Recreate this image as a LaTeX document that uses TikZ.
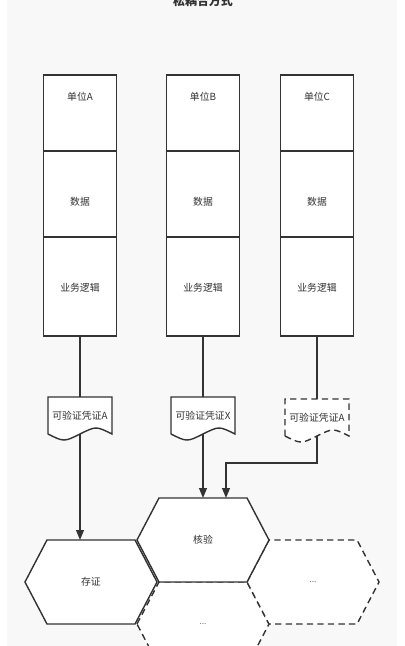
\documentclass[tikz,border=0pt]{standalone}
\usepackage{fontspec}
\setmainfont{Noto Sans CJK SC}
\usetikzlibrary{arrows.meta,positioning,calc}
\definecolor{ink}{HTML}{333333}
\definecolor{panel}{HTML}{F8F8F8}
\definecolor{dots}{HTML}{777777}

% outline of a flat hexagon on a (hidden) node
\newcommand{\hexshape}[3][]{%
  \draw[outline,#1] (#2.west) -- ($(#2.north west)+(22,0)$) -- ($(#2.north east)+(-22,0)$) -- (#2.east)
    -- ($(#2.south east)+(-22,0)$) -- ($(#2.south west)+(22,0)$) -- cycle;
  \node[txt] (#2t) at (#2) {#3};}
% document shape with a wavy foot
\newcommand{\docshape}[3][]{%
  \draw[outline,#1] (#2.south west) -- (#2.north west) -- (#2.north east) -- (#2.south east)
    .. controls ($(#2.south east)!0.5!(#2.south)+(0,-8)$) .. (#2.south)
    .. controls ($(#2.south west)!0.5!(#2.south)+(0,8)$) .. (#2.south west);
  \node[txt] (#2t) at (#2) {#3};}
\newcommand{\moredots}{\color{dots}\fontsize{6}{7}\selectfont ...}

\begin{document}
\begin{tikzpicture}[x=0.025cm,y=-0.025cm,font=\fontsize{7}{8}\selectfont,>={Triangle[length=7pt,width=5.5pt]}]
\tikzset{
  cell/.style={draw=ink,fill=white,line width=1pt,minimum width=1.825cm,inner sep=0pt,outer sep=0pt},
  txt/.style={text=ink,inner sep=1pt},
  outline/.style={draw=ink,fill=white,line width=1pt},
  docbox/.style={minimum width=1.6cm,minimum height=0.925cm,inner sep=0pt,outer sep=0pt},
  hexbox/.style={minimum width=3.3cm,minimum height=2.1cm,inner sep=0pt,outer sep=0pt},
  gap/.style={dash pattern=on 4.5pt off 3pt},
  link/.style={draw=ink,line width=1pt}
}
\clip (0,0) rectangle (405,646);
\fill[panel] (7,0) rectangle (397,646);
\node[font=\fontsize{8.5}{9}\selectfont\bfseries,text=ink] (title) at (203,1) {松耦合方式};

% units
\foreach \c/\x/\u in {a/80/A,b/203/B,c/317/C} {
  \node[cell,minimum height=1.9cm] (\c1) at (\x,113) {};
  \node[cell,minimum height=2.15cm,below=0pt of \c1] (\c2) {};
  \node[cell,minimum height=2.475cm,below=0pt of \c2] (\c3) {};
  \node[txt] (\c1t) at (\x,97) {单位\u};
  \node[txt] (\c2t) at (\x,202) {数据};
  \node[txt] (\c3t) at (\x,288) {业务逻辑};
}

% credentials
\node[docbox] (da) at (80,415.5) {};
\docshape{da}{可验证凭证A}
\node[docbox] (db) at (203,415.5) {};
\docshape{db}{可验证凭证X}
\node[docbox] (dc) at (317,417.5) {};
\docshape[gap]{dc}{可验证凭证A}

% honeycomb
\node[hexbox] (hb) at (203,624) {};
\hexshape[gap]{hb}{\moredots}
\node[hexbox] (hr) at (313,582) {};
\hexshape[gap]{hr}{\moredots}
\node[hexbox] (cz) at (91,582) {};
\hexshape{cz}{存证}
\node[hexbox] (hy) at (203,540) {};
\hexshape{hy}{核验}

% links
\draw[link] (a3.south) -- (da.north);
\draw[link,->] (da.south) -- (da.south |- cz.north);
\draw[link] (b3.south) -- (db.north);
\draw[link,->] (db.south) -- (db.south |- hy.north);
\draw[link] (c3.south) -- (dc.north);
\coordinate (turn) at (226,463);
\draw[link,->] (dc.south) |- (turn) -- (turn |- hy.north);
\end{tikzpicture}
\end{document}
